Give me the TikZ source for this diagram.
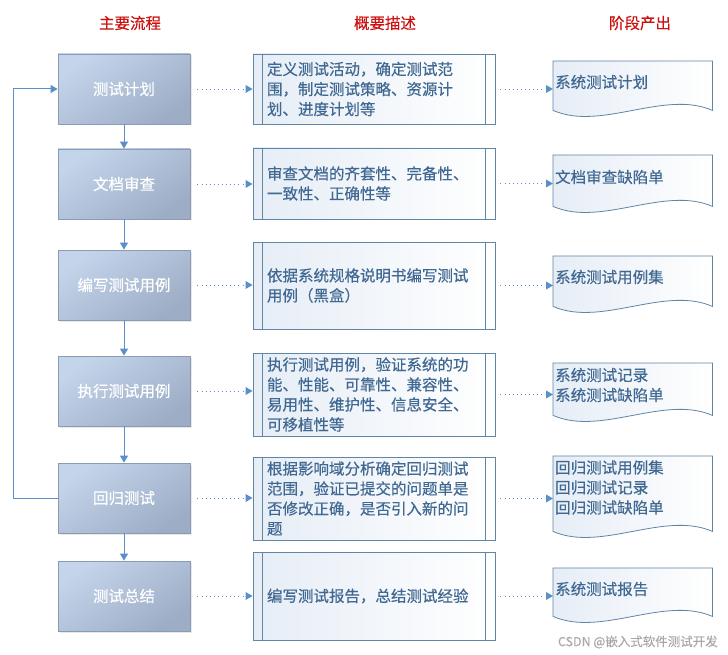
\documentclass[tikz,border=0pt]{standalone}
\usepackage{fontspec}
\setmainfont{Noto Sans CJK SC}[FakeBold=0.35]
\usetikzlibrary{arrows.meta,shadows}
\definecolor{lineblue}{HTML}{5B8FC9}
\definecolor{boxtop}{HTML}{C4D4EB}
\definecolor{boxbot}{HTML}{9DADC5}
\definecolor{boxedge}{HTML}{8A9BB4}
\definecolor{pedge}{HTML}{5F85A7}
\definecolor{ptext}{HTML}{3F6892}
\definecolor{pfill}{HTML}{E6EDF6}
\definecolor{hred}{HTML}{CC1111}
\definecolor{wmark}{HTML}{A8A8A8}
\begin{document}
\begin{tikzpicture}[x=1pt,y=-1pt,
  txt/.style={font=\fontsize{15.5}{20}\selectfont},
  header/.style={txt,text=hred},
  mainbox/.style={txt,draw=boxedge,line width=0.8pt,top color=boxtop,bottom color=boxbot,shading angle=35,
    minimum width=132pt,minimum height=70pt,inner sep=0pt,text=white,
    drop shadow={opacity=0.18,shadow xshift=1.5pt,shadow yshift=-1.5pt}},
  procbox/.style={txt,draw=pedge,line width=0.8pt,left color=pfill,right color=white,
    minimum width=242pt,text width=214pt,align=left,inner xsep=4pt,inner ysep=0pt,text=ptext},
  docshape/.style={draw=pedge,line width=0.8pt,left color=pfill,right color=white},
  docbox/.style={minimum width=159pt,inner sep=0pt,anchor=north west},
  doctext/.style={txt,text=ptext,align=left,anchor=west,inner sep=0pt},
  flow/.style={draw=lineblue,line width=1pt,-{Triangle[length=7pt,width=8pt]}},
  dotflow/.style={draw=lineblue,line width=0.9pt,dash pattern=on 0.9pt off 3.2pt,
    -{Triangle[length=7pt,width=8pt,fill=lineblue,line width=0pt]}}
]
\useasboundingbox (0,0) rectangle (728,655);

% headers
\node[header] (h1) at (130,23) {主要流程};
\node[header] (h2) at (385,23) {概要描述};
\node[header] (h3) at (640,23) {阶段产出};

% main flow boxes
\node[mainbox] (b1) at (124,89) {测试计划};
\node[mainbox] (b2) at (124,184) {文档审查};
\node[mainbox] (b3) at (124,285) {编写测试用例};
\node[mainbox] (b4) at (124,391) {执行测试用例};
\node[mainbox] (b5) at (124,498) {回归测试};
\node[mainbox] (b6) at (124,596) {测试总结};

% description boxes
\node[procbox,minimum height=70pt] (m1) at (374,89) {定义测试活动，确定测试范\\围，制定测试策略、资源计\\划、进度计划等};
\node[procbox,minimum height=71pt] (m2) at (374,183.5) {审查文档的齐套性、完备性、\\一致性、正确性等};
\node[procbox,minimum height=87pt] (m3) at (374,285.5) {依据系统规格说明书编写测试\\用例（黑盒）};
\node[procbox,minimum height=83pt] (m4) at (374,394.5) {执行测试用例，验证系统的功\\能、性能、可靠性、兼容性、\\易用性、维护性、信息安全、\\可移植性等};
\node[procbox,minimum height=83pt] (m5) at (374,498.5) {根据影响域分析确定回归测试\\范围，验证已提交的问题单是\\否修改正确，是否引入新的问\\题};
\node[procbox,minimum height=88pt] (m6) at (374,596) {编写测试报告，总结测试经验};
\foreach \m in {m1,m2,m3,m4,m5,m6}{
  \draw[pedge,line width=0.8pt] ([xshift=10pt]\m.north west) -- ([xshift=10pt]\m.south west);
  \draw[pedge,line width=0.8pt] ([xshift=-10pt]\m.north east) -- ([xshift=-10pt]\m.south east);
}

% output documents
\node[docbox,minimum height=49pt] (d1) at (553,61) {};
\node[docbox,minimum height=51pt] (d2) at (553,155) {};
\node[docbox,minimum height=50pt] (d3) at (553,256) {};
\node[docbox,minimum height=52pt] (d4) at (553,363) {};
\node[docbox,minimum height=75pt] (d5) at (553,456) {};
\node[docbox,minimum height=48pt] (d6) at (553,568) {};
\foreach \d in {d1,d2,d3,d4,d5,d6}{
  \path[docshape] (\d.north west) -- (\d.north east) -- (\d.south east)
    .. controls ([shift={(-48,-21)}]\d.south east) and ([shift={(48,21)}]\d.south west) .. (\d.south west) -- cycle;
}
\node[doctext] (t1) at (555,82) {系统测试计划};
\node[doctext] (t2) at (555,177) {文档审查缺陷单};
\node[doctext] (t3) at (555,277) {系统测试用例集};
\node[doctext] (t4) at (555,385) {系统测试记录\\系统测试缺陷单};
\node[doctext] (t5) at (555,487.5) {回归测试用例集\\回归测试记录\\回归测试缺陷单};
\node[doctext] (t6) at (555,589) {系统测试报告};

% main flow arrows
\draw[flow] (b1.south) -- (b2.north);
\draw[flow] (b2.south) -- (b3.north);
\draw[flow] (b3.south) -- (b4.north);
\draw[flow] (b4.south) -- (b5.north);
\draw[flow] (b5.south) -- (b6.north);
\coordinate (fb) at (13,498);
\draw[flow] (b5.west) -- (fb) |- (b1.west);

% dotted arrows
\foreach \i in {1,...,6}{
  \draw[dotflow,shorten <=7pt] (b\i.east) -- (b\i.east -| m\i.west);
  \draw[dotflow,shorten <=5pt] (m\i.east) -- (m\i.east -| d\i.west);
}

% watermark
\node[font=\fontsize{12.5}{14}\selectfont,text=wmark,anchor=east,inner sep=0pt] (wm) at (718,642) {CSDN @嵌入式软件测试开发};
\end{tikzpicture}
\end{document}
